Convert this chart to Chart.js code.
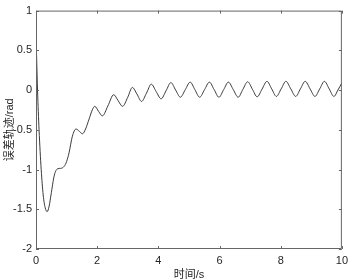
<!DOCTYPE html>
<html lang="zh">
<head>
  <meta charset="UTF-8">
  <title>误差轨迹</title>
  <script src="https://cdn.jsdelivr.net/npm/chart.js"></script>
  <style>
    body { margin: 0; background: #fff; }
    .chart-container { width: 353px; height: 280px; position: relative; }
  </style>
</head>
<body>
  <div class="chart-container">
    <canvas id="myChart"></canvas>
  </div>

  <script>
    // 读图得到的数据点（时间 s，误差 rad）
    const times = [
      0, 0.05, 0.10, 0.17, 0.235, 0.30, 0.365, 0.43, 0.49, 0.60,
      0.71, 0.81, 0.92, 1.00, 1.08, 1.19, 1.31, 1.42, 1.52, 1.62,
      1.74, 1.84, 1.92, 2.05, 2.17, 2.35, 2.54, 2.68, 2.83, 3.00,
      3.15, 3.30, 3.45, 3.61, 3.77, 3.93, 4.09, 4.25, 4.41, 4.565,
      4.72, 4.88, 5.04, 5.195, 5.35, 5.51, 5.67, 5.825, 5.98, 6.135,
      6.29, 6.45, 6.61, 6.765, 6.92, 7.075, 7.23, 7.39, 7.55, 7.705,
      7.86, 8.015, 8.17, 8.33, 8.49, 8.645, 8.80, 8.96, 9.12, 9.275,
      9.43, 9.585, 9.74, 9.87, 10.0
    ];
    const errors = [
      0.72, 0.0, -0.5, -1.0, -1.32, -1.48, -1.53, -1.46, -1.32, -1.07,
      -0.99, -0.985, -0.96, -0.9, -0.79, -0.58, -0.49, -0.52, -0.55, -0.49,
      -0.36, -0.25, -0.205, -0.27, -0.325, -0.2, -0.058, -0.13, -0.205, -0.09,
      0.033, -0.05, -0.143, -0.04, 0.074, -0.02, -0.11, -0.01, 0.094, 0.0,
      -0.09, 0.005, 0.10, 0.005, -0.09, 0.005, 0.10, 0.005, -0.09, 0.005,
      0.10, 0.005, -0.09, 0.01, 0.105, 0.01, -0.085, 0.012, 0.11, 0.015,
      -0.08, 0.015, 0.11, 0.015, -0.08, 0.015, 0.11, 0.015, -0.08, 0.015,
      0.11, 0.015, -0.08, 0.0, 0.09
    ];
    const xTicks = [0, 2, 4, 6, 8, 10];
    const yTicks = [-2, -1.5, -1, -0.5, 0, 0.5, 1];

    const textColor = '#262626';
    const fontFamily = "'Liberation Sans', Arial, 'Noto Sans CJK SC', sans-serif";

    // 坐标框 + 向内的刻度线（四边）
    const boxPlugin = {
      id: 'box',
      afterDraw(chart) {
        const { ctx, chartArea: a, scales: { x, y } } = chart;
        ctx.save();
        ctx.strokeStyle = '#666';
        ctx.lineWidth = 1;
        ctx.beginPath();
        ctx.rect(a.left + 0.5, a.top + 0.5, a.right - a.left - 1, a.bottom - a.top - 1);
        x.ticks.forEach(t => {
          const px = Math.round(x.getPixelForValue(t.value)) + 0.5;
          ctx.moveTo(px, a.bottom); ctx.lineTo(px, a.bottom - 3);
          ctx.moveTo(px, a.top); ctx.lineTo(px, a.top + 3);
        });
        y.ticks.forEach(t => {
          const py = Math.round(y.getPixelForValue(t.value)) + 0.5;
          ctx.moveTo(a.left, py); ctx.lineTo(a.left + 3, py);
          ctx.moveTo(a.right, py); ctx.lineTo(a.right - 3, py);
        });
        ctx.stroke();
        ctx.restore();
      }
    };

    const tickFmt = v => String(v);

    const ctx = document.getElementById('myChart').getContext('2d');
    new Chart(ctx, {
      type: 'line',
      data: {
        datasets: [{
          data: times.map((t, i) => ({ x: t, y: errors[i] })),
          borderColor: '#3a3a3a',
          borderWidth: 1,
          pointRadius: 0,
          fill: false,
          cubicInterpolationMode: 'monotone'
        }]
      },
      options: {
        responsive: true,
        maintainAspectRatio: false,
        animation: false,
        layout: { padding: 0 },
        plugins: { legend: { display: false }, tooltip: { enabled: false } },
        scales: {
          x: {
            type: 'linear',
            min: 0, max: 10,
            afterFit: s => { s.height = 31; },
            afterBuildTicks: s => { s.ticks = xTicks.map(v => ({ value: v })); },
            grid: { display: false, drawTicks: false },
            border: { display: false },
            ticks: { color: textColor, font: { family: fontFamily, size: 11 }, padding: 5, maxRotation: 0, callback: tickFmt },
            title: {
              display: true, text: '时间/s', color: textColor,
              font: { family: fontFamily, size: 11 },
              padding: { top: 0, bottom: -2 }
            }
          },
          y: {
            min: -2, max: 1,
            afterFit: s => { s.width = 36; },
            afterBuildTicks: s => { s.ticks = yTicks.map(v => ({ value: v })); },
            grid: { display: false, drawTicks: false },
            border: { display: false },
            ticks: { color: textColor, font: { family: fontFamily, size: 11 }, padding: 4, callback: tickFmt },
            title: {
              display: true, text: '误差轨迹/rad', color: textColor,
              font: { family: fontFamily, size: 11 },
              padding: { top: 3, bottom: 0 }
            }
          }
        }
      },
      plugins: [boxPlugin]
    });
  </script>
</body>
</html>
